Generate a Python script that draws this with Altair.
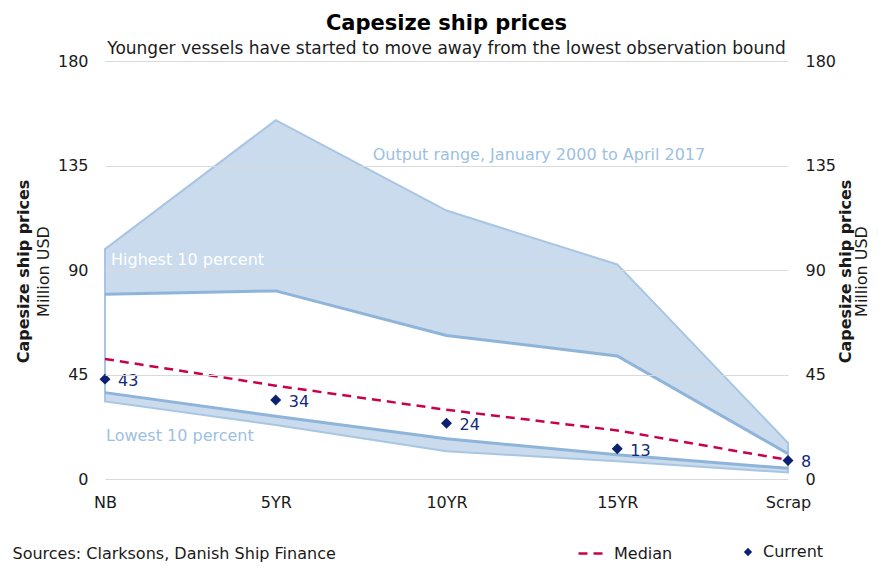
import altair as alt
import pandas as pd

# ---- data ----
cats = ["NB", "5YR", "10YR", "15YR", "Scrap"]
max_v = [99.0, 154.5, 115.6, 92.4, 15.5]
p90_v = [79.6, 81.0, 61.8, 53.0, 10.9]
median_v = [51.7, 40.2, 29.8, 20.9, 8.2]
p10_v = [37.2, 27.0, 17.3, 10.4, 4.6]
min_v = [33.4, 23.3, 12.0, 7.6, 2.8]
current_v = [43, 34, 24, 13, 8]

ann_text = ["Highest 10 percent", "Lowest 10 percent", "Output range, January 2000 to April 2017"]
ann_cat = ["NB", "NB", "5YR"]
ann_y = [94.2, 18.4, 139.6]

yticks = [0, 45, 90, 135, 180]

df = pd.DataFrame({
    "cat": cats, "max": max_v, "p90": p90_v, "median": median_v,
    "p10": p10_v, "min": min_v, "current": current_v,
    "label": [str(v) for v in current_v],
})
ann = pd.DataFrame({"cat": ann_cat, "y": ann_y, "text": ann_text})

FONT = "DejaVu Sans"
TXT = "#1a1a1a"
FILL = "#c9dbec"
EDGE = "#a8c6e3"
LINE = "#8fb4da"
RED = "#c9004c"
NAVY = "#0c2270"
LIGHT = "#9dc0e3"

xscale = alt.Scale(type="point", domain=cats, padding=0)
yscale = alt.Scale(domain=[0, 180], nice=False)

x_main = alt.X("cat:N", scale=xscale, sort=cats, axis=alt.Axis(
    title="Sources: Clarksons, Danish Ship Finance", labelAngle=0, ticks=False,
    domain=False, grid=False, labelPadding=15, labelFont=FONT, labelFontSize=16,
    labelColor=TXT, titleFont=FONT, titleFontSize=16, titleFontWeight="normal",
    titleColor=TXT, titleX=-93, titleY=74, titleAlign="left", titleBaseline="middle"))


def yax(orient, title, labels, grid, tx, bold):
    return alt.Axis(
        orient=orient, values=yticks, title=title, labels=labels, grid=grid,
        gridColor="#d9d9d9", gridWidth=1, ticks=False, domain=False, labelPadding=17,
        labelFont=FONT, labelFontSize=16, labelColor=TXT, titleFont=FONT,
        titleFontSize=16, titleFontWeight="bold" if bold else "normal",
        titleColor=TXT, titleAngle=270, titleX=tx, titleY=210,
        titleAlign="center", titleBaseline="middle", zindex=1)


base = alt.Chart(df)

envelope = base.mark_area(fill=FILL).encode(
    x=x_main,
    y=alt.Y("max:Q", scale=yscale, axis=yax("left", "Capesize ship prices", True, True, -82, True)),
    y2="min:Q")

inner = base.mark_area(fill="white").encode(
    x=x_main,
    y=alt.Y("p90:Q", scale=yscale, axis=yax("right", "Capesize ship prices", True, False, 57, True)),
    y2="p10:Q")

outline = base.mark_area(fill=None, fillOpacity=0, stroke=EDGE, strokeWidth=2).encode(
    x=x_main,
    y=alt.Y("max:Q", scale=yscale, axis=None),
    y2="min:Q")

p90_line = base.mark_line(color=LINE, strokeWidth=3).encode(
    x=x_main,
    y=alt.Y("p90:Q", scale=yscale, axis=yax("left", "Million USD", False, False, -62, False)))

p10_line = base.mark_line(color=LINE, strokeWidth=3).encode(
    x=x_main,
    y=alt.Y("p10:Q", scale=yscale, axis=yax("right", "Million USD", False, False, 73, False)))

leg_med = alt.Legend(orient="none", legendX=472, legendY=477, direction="horizontal",
                     title=None, labelFont=FONT, labelFontSize=16, labelColor=TXT,
                     symbolType="stroke", symbolSize=784, symbolStrokeWidth=2.5,
                     labelOffset=6)
median_line = base.mark_line(strokeWidth=2.5).encode(
    x=x_main,
    y=alt.Y("median:Q", scale=yscale, axis=None),
    color=alt.Color("series:N", scale=alt.Scale(domain=["Median"], range=[RED]), legend=leg_med),
    strokeDash=alt.StrokeDash("series:N", scale=alt.Scale(domain=["Median"], range=[[9, 6]]), legend=leg_med),
).transform_calculate(series="'Median'")

leg_cur = alt.Legend(orient="none", legendX=635, legendY=483, direction="horizontal",
                     title=None, labelFont=FONT, labelFontSize=16, labelColor=TXT,
                     symbolFillColor=NAVY, symbolStrokeColor=NAVY, symbolSize=70,
                     labelOffset=7)
points = base.mark_point(filled=True, color=NAVY, size=120, opacity=1).encode(
    x=x_main,
    y=alt.Y("current:Q", scale=yscale, axis=None),
    shape=alt.Shape("series2:N", scale=alt.Scale(domain=["Current"], range=["diamond"]), legend=leg_cur),
).transform_calculate(series2="'Current'")

labels = base.mark_text(align="left", baseline="middle", dx=13, dy=2, font=FONT,
                        fontSize=16, color="#13287a").encode(
    x=x_main, y=alt.Y("current:Q", scale=yscale, axis=None), text="label:N")


def ann_layer(i, color, dx):
    return alt.Chart(ann.iloc[[i]]).mark_text(
        align="left", baseline="middle", dx=dx, font=FONT, fontSize=16, color=color
    ).encode(x=x_main, y=alt.Y("y:Q", scale=yscale, axis=None), text="text:N")


a1 = ann_layer(0, "white", 6)
a2 = ann_layer(1, LIGHT, 1)
a3 = ann_layer(2, LIGHT, 97)

chart = alt.layer(
    envelope, inner, outline, p90_line, p10_line, median_line, points, labels, a1, a2, a3
).resolve_scale(y="shared", x="shared").resolve_axis(y="independent").properties(
    width=683, height=418,
    autosize=alt.AutoSizeParams(type="none"),
    padding={"left": 97, "top": 53, "right": 83, "bottom": 85},
    title=alt.Title("Capesize ship prices",
                    subtitle=["Younger vessels have started to move away from the lowest observation bound"],
                    anchor="middle", frame="group", font=FONT, fontSize=21,
                    fontWeight="bold", color="#000000", subtitleFont=FONT,
                    subtitleFontSize=17, subtitleColor=TXT, offset=-4,
                    subtitlePadding=7),
).configure_view(stroke=None)

chart.save("out.html", embed_options={"renderer": "svg", "actions": False})
